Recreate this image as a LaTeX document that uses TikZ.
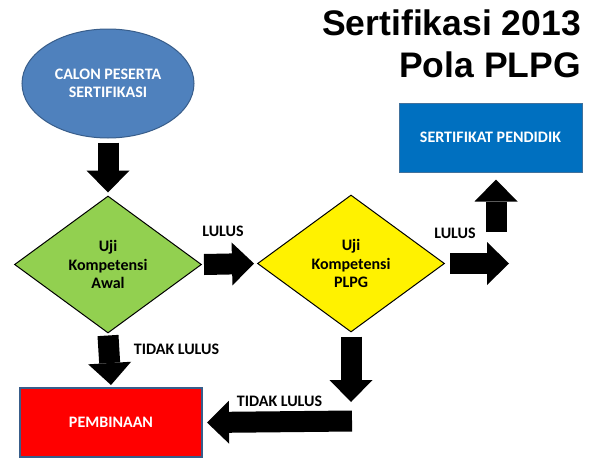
\documentclass[tikz,border=0pt]{standalone}
\usepackage{fontspec}
\setmainfont{Carlito}
\newfontfamily\judulfont{Liberation Sans}
\usetikzlibrary{shapes.geometric, arrows.meta}
\definecolor{biruelips}{HTML}{4F81BD}
\definecolor{garisbiru}{HTML}{385D8A}
\definecolor{hijau}{HTML}{92D050}
\definecolor{birukotak}{HTML}{0070C0}
\definecolor{gariskotak}{HTML}{41719C}
\begin{document}
\begin{tikzpicture}[x=1pt, y=-1pt,
    every node/.style={font=\bfseries\fontsize{16}{18.5}\selectfont, align=center, inner sep=0pt},
    uji/.style={diamond, draw=black, line width=1pt, minimum width=187pt, minimum height=137pt, aspect=1.365},
    kotak/.style={rectangle, minimum width=182pt, minimum height=69pt, text=white},
    panah/.style={line width=21pt, -{Triangle[width=43pt, length=22pt, line width=0pt]}}]
      \useasboundingbox (0,0) rectangle (591,463);

      \node[anchor=base east, font=\judulfont\bfseries\fontsize{35.5}{42}\selectfont] (judul1) at (581,35) {Sertifikasi 2013};
      \node[anchor=base east, font=\judulfont\bfseries\fontsize{35.5}{42}\selectfont] (judul2) at (581,77) {Pola PLPG};

      \node[ellipse, fill=biruelips, draw=garisbiru, line width=1pt, minimum width=172pt, minimum height=109pt, text=white] (calon) at (108,83.5) {CALON PESERTA\\SERTIFIKASI};
      \node[uji, fill=hijau]  (uji1) at (108,264.5) {Uji\\Kompetensi\\Awal};
      \node[uji, fill=yellow] (uji2) at (351,263.5) {Uji\\Kompetensi\\PLPG};
      \node[kotak, fill=red, draw=garisbiru, line width=2pt] (bina) at (111,422.5) {PEMBINAAN};
      \node[kotak, fill=birukotak, draw=gariskotak, line width=1pt, minimum width=183pt] (sertifikat) at (490.5,137.5) {SERTIFIKAT PENDIDIK};

      \coordinate (kanan) at (509,263.5);
      \coordinate (naik)  at (496,232);
      \coordinate (turun) at (351,402);
      \coordinate (kiri)  at (352,421);

      \draw[panah] ([yshift=-4pt]calon.south) -- ([yshift=3pt]uji1.north);
      \draw[panah] ([xshift=2pt]uji1.east) -- ([xshift=-3pt]uji2.west);
      \draw[panah] ([xshift=5pt]uji2.east) -- (kanan);
      \draw[panah] (naik) -- ([xshift=5.5pt, yshift=-7pt]sertifikat.south);
      \draw[panah] ([yshift=-2pt]uji1.south) -- ([yshift=2pt]bina.north);
      \draw[panah] ([yshift=-4pt]uji2.south) -- (turun);
      \draw[panah] (kiri) -- ([xshift=4pt]bina.east);

      \node (lulus1) at (223,231) {LULUS};
      \node (tidak1) at (176.5,349) {TIDAK LULUS};
      \node (lulus2) at (455,233) {LULUS};
      \node (tidak2) at (279.5,401) {TIDAK LULUS};

    \end{tikzpicture}
\end{document}
